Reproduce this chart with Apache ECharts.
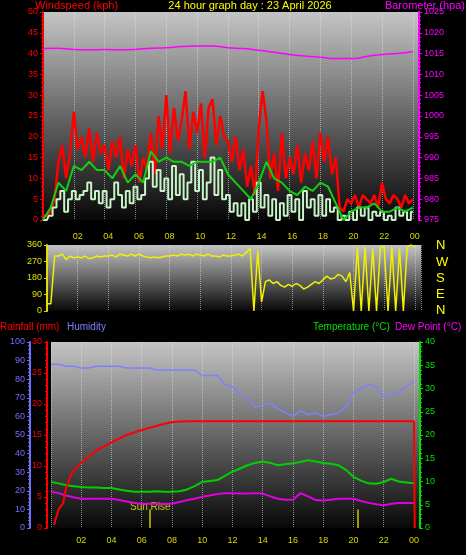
<!DOCTYPE html>
<html><head><meta charset="utf-8">
<script src="https://cdn.jsdelivr.net/npm/echarts@6/dist/echarts.min.js"></script>
<style>html,body{margin:0;background:#000}#c{width:466px;height:555px}</style>
</head><body><div id="c"></div>
<script>
// 15-minute samples from 00:00
const gust = [1,1,2,5, 14,18,10,16, 26,17,20,15, 22,14,21,16, 18,12,19,15, 20,10,17,13, 18,9,15,12, 21,11,25,17, 30,16,27,19, 24,31,17,26, 21,28,15,27, 29,18,25,20, 19,14,20,12, 17,8,13,6, 22,31,24,10, 16,7,21,10, 15,11,18,9, 16,12,19,10, 21,14,20,11, 15,3,2,5, 4,6,3,6, 5,4,6,3, 9,5,4,6, 5,3,6,4, 5];
const speed = [0,0,1,3, 5,7,2,5, 7,5,6,7, 9,5,7,4, 7,3,5,9, 6,3,7,4, 8,5,6,10, 14,8,12,7, 10,5,13,6, 11,5,9,14, 7,12,5,9, 15,6,12,5, 6,2,4,1, 4,0,5,2, 9,3,6,1, 5,0,4,1, 6,2,5,0, 7,3,5,1, 6,1,5,2, 3,0,1,0, 2,0,3,1, 3,0,2,1, 2,0,1,0, 3,1,2,0, 2];
const direction = [40,40,300,300, 310,280,300,290, 295,290,300,285, 290,300,295,300, 300,305,295,310, 305,300,310,300, 310,300,295,290, 295,290,295,300, 300,305,300,310, 305,310,300,310, 305,300,310,300, 300,295,305,300, 300,305,310,300, 320,340,0,330, 50,160,170,150, 160,140,130,145, 135,150,140,120, 130,145,160,150, 170,190,175,180, 200,190,160,210, 0,350,0,350, 0,340,0,350, 350,0,350,0, 340,0,350,360, 350];
// half-hourly samples
const avgWind = [0,3,9,7,13,12,14,12,12,10,13,9,11,9,16.5,14,15,14,14,13,14,14,14,15,11,9,7,5,9,14,10,9,7,6,8,7,9,8,4,0,2,3,3,4,2,2,3,2,3];
const humidity = [88,88,87,87,86,86,87,87,87,87,86,86,86,86,85,85,85,85,85,85,82,82,82,77,76,72,70,65,66,67,64,62,60,63,61,62,60,61,62,65,73,75,77,76,71,72,73,76,79];
const temperature = [9.9,9.6,9.2,9.0,8.8,8.7,8.7,8.6,8.6,8.3,8.0,7.8,7.8,7.8,7.9,7.8,7.8,7.9,8.3,9.0,9.9,10.1,10.3,11.2,12.1,12.8,13.5,14.0,14.3,14.0,13.5,13.7,13.9,14.2,14.6,14.3,14.0,13.8,13.5,12.5,11.0,10.2,9.6,9.5,9.9,10.6,10.0,9.8,9.6];
const dewPoint = [7.8,7.5,7.0,6.6,6.3,6.3,6.3,6.3,6.3,6.0,5.7,5.4,5.2,5.2,5.2,5.2,5.2,5.6,6.0,6.3,6.7,7.0,7.3,7.5,7.5,7.4,7.4,7.5,7.4,6.8,6.3,6.1,6.1,7.5,6.8,6.0,5.9,6.1,6.3,6.3,6.3,5.8,5.4,5.1,4.9,5.2,5.4,5.4,5.4];
// hourly
const barometer = [1016.2,1016.3,1016.0,1015.9,1016.0,1015.9,1016.0,1016.3,1016.4,1016.7,1016.8,1016.8,1016.4,1016.2,1015.8,1015.3,1014.8,1014.4,1014.1,1013.8,1013.8,1014.3,1014.8,1015.0,1015.5];
const rainHours = [0.2,0.5,0.8,1,1.4,2,3,4,5,6,7,8,9,24,24.05];
const rainfall = [0.5,3,4,6.5,9,10.5,12.5,13.8,15,15.8,16.5,17.1,17.2,17.2,0];
const hourLabels = ['02','04','06','08','10','12','14','16','18','20','22','00'];
const sunRise = 6.55, sunSet = 20.3;

const q = a => a.map((v,i)=>[i*0.25,v]);
const h = a => a.map((v,i)=>[i*0.5,v]);
const hr = a => a.map((v,i)=>[i,v]);
const F = 'Liberation Sans';
const bg = {type:'linear',x:0,y:0,x2:0,y2:1,colorStops:[{offset:0,color:'#c4c4c4'},{offset:1,color:'#080808'}]};
const xfmt = v => v===0 ? '' : hourLabels[v/2-1];
function xa(gi, show, pos, margin){
  return {type:'value',gridIndex:gi,min:0,max:24.4,interval:2,position:pos,
    axisLine:{show:false},axisTick:{show:false},
    axisLabel:{show:show,formatter:xfmt,color:'#d8d800',fontSize:9,fontFamily:F,margin:margin,showMaxLabel:false},
    splitLine:{show:true,lineStyle:{color:'rgba(230,230,230,0.55)',type:'dotted'}}};
}
function ya(gi,min,max,iv,col,pos,off,extra){
  return Object.assign({type:'value',gridIndex:gi,min:min,max:max,interval:iv,position:pos,offset:off||0,
    axisLine:{show:true,onZero:false,lineStyle:{color:col,width:2}},axisTick:{show:true,length:3,lineStyle:{color:col}},
    minorTick:{show:true,splitNumber:5,length:2,lineStyle:{color:col}},
    axisLabel:{color:col,fontSize:9,fontFamily:F,margin:5,formatter:v=>String(v)},
    splitLine:{show:false}},extra||{});
}
const chart = echarts.init(document.getElementById('c'));
const t = (x,y,s,c,align,fs)=>({type:'text',x:x,y:y,style:{text:s,fill:c,font:(fs||11)+'px '+F,textAlign:align||'left'}});
chart.setOption({
  backgroundColor:'#000',animation:false,
  grid:[
    {left:43,right:47,top:12,bottom:335,show:true,backgroundColor:bg,borderWidth:0},
    {left:47,right:45,top:245,bottom:244,show:true,backgroundColor:bg,borderWidth:0},
    {left:51,right:46,top:342,bottom:27,show:true,backgroundColor:bg,borderWidth:0}
  ],
  graphic:[
    t(35,0,'Windspeed (kph)','#ff0000'),
    t(250,0,'24 hour graph day : 23 April 2026','#ffff00','center'),
    t(465,0,'Barometer (hpa)','#ff00ff','right'),
    t(436,239,'N','#ffff00','left',13), t(436,256,'W','#ffff00','left',13),
    t(436,272,'S','#ffff00','left',13), t(436,288,'E','#ffff00','left',13),
    t(436,304,'N','#ffff00','left',13),
    t(0,322,'Rainfall (mm)','#ff0000','left',10), t(67,322,'Humidity','#8080ff','left',10),
    t(313,322,'Temperature (°C)','#00e000','left',10), t(395,322,'Dew Point (°C)','#ff00ff','left',10),
    t(130,502,'Sun Rise','#c8c800','left',10)
  ],
  xAxis:[xa(0,false,'bottom',4), xa(1,true,'top',4), xa(2,true,'bottom',8)],
  yAxis:[
    ya(0,0,50,5,'#ff0000','left'),
    ya(0,975,1025,5,'#ff00ff','right'),
    ya(1,0,360,90,'#e0e000','left',0,{minorTick:{show:false}}),
    ya(2,0,100,10,'#7070ff','left',21),
    ya(2,0,30,5,'#ff0000','left',4),
    ya(2,0,40,5,'#00e000','right')
  ],
  series:[
    {type:'line',xAxisIndex:0,yAxisIndex:1,data:hr(barometer),smooth:true,symbol:'none',lineStyle:{color:'#ff00ff',width:1.5}},
    {type:'line',xAxisIndex:0,yAxisIndex:0,data:q(gust),symbol:'none',lineStyle:{color:'#ff0000',width:2.5}},
    {type:'line',xAxisIndex:0,yAxisIndex:0,data:q(speed),step:'middle',symbol:'none',lineStyle:{color:'#c8f5c8',width:2}},
    {type:'line',xAxisIndex:0,yAxisIndex:0,data:h(avgWind),symbol:'none',lineStyle:{color:'#10d010',width:2}},
    {type:'line',xAxisIndex:1,yAxisIndex:2,data:q(direction),symbol:'none',lineStyle:{color:'#f0f000',width:1.5}},
    {type:'line',xAxisIndex:2,yAxisIndex:3,data:h(humidity),symbol:'none',lineStyle:{color:'#8080ff',width:1.5}},
    {type:'line',xAxisIndex:2,yAxisIndex:5,data:h(temperature),symbol:'none',lineStyle:{color:'#00d000',width:2}},
    {type:'line',xAxisIndex:2,yAxisIndex:5,data:h(dewPoint),symbol:'none',lineStyle:{color:'#e000e0',width:2}},
    {type:'line',xAxisIndex:2,yAxisIndex:4,data:rainHours.map((x,i)=>[x,rainfall[i]]),symbol:'none',lineStyle:{color:'#ff0000',width:2},
      markLine:{symbol:'none',silent:true,label:{show:false},lineStyle:{color:'#c8c800',width:1.5,type:'solid'},
        data:[[{coord:[sunRise,0]},{coord:[sunRise,3]}],[{coord:[sunSet,0]},{coord:[sunSet,3]}]]}}
  ]
});
</script></body></html>
